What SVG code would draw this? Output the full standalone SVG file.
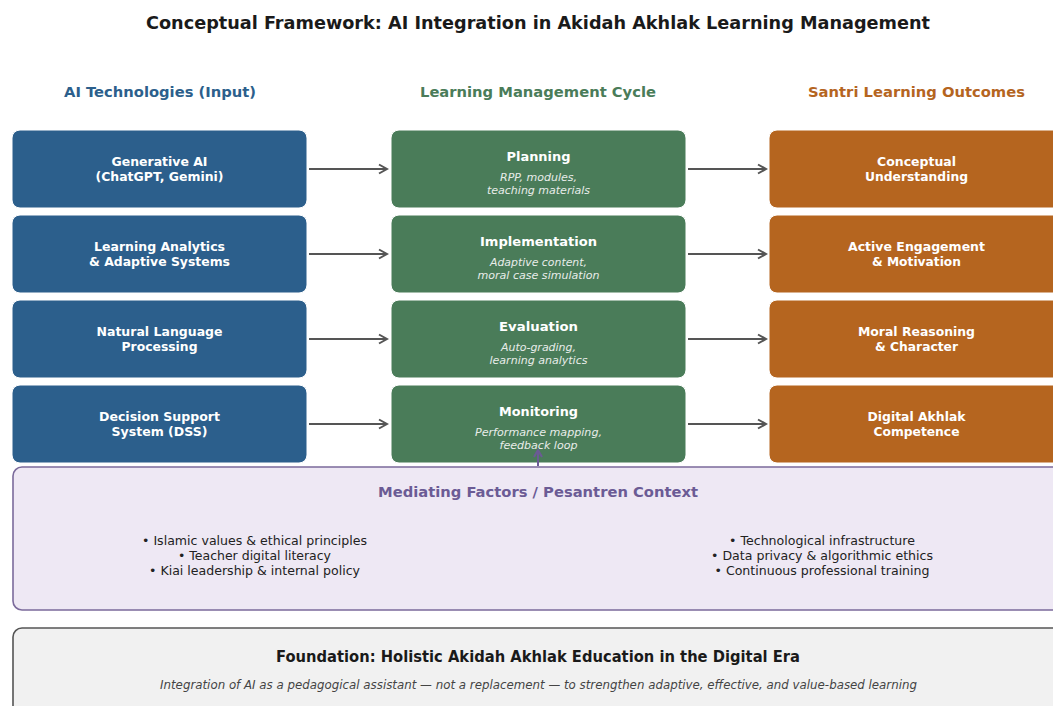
<svg xmlns="http://www.w3.org/2000/svg" width="1053" height="706" viewBox="0 0 1053 706">
<style>
text{font-family:"DejaVu Sans","Liberation Sans",sans-serif;text-anchor:middle}
.title{font-size:17px;font-weight:bold;fill:#1a1a1a}
.hdr{font-size:14px;font-weight:bold}
.lbl{font-size:13px;font-weight:bold;fill:#ffffff}
.sub{font-size:11px;font-style:italic;fill:#e8ece9}
.blue{fill:#2c5f8c}
.green{fill:#4a7c59}
.orange{fill:#b5651f}
.box{stroke:#ffffff;stroke-width:1}
.bul{font-size:13px;fill:#222222}
.conn{stroke:#555555;stroke-width:2;fill:none}
</style>
<defs>
<marker id="ah" markerUnits="userSpaceOnUse" markerWidth="12" markerHeight="12" refX="10" refY="6" orient="auto">
<path d="M2,1.5 L10,6 L2,10.5" fill="none" stroke="#555555" stroke-width="2"/>
</marker>
<marker id="ahp" markerUnits="userSpaceOnUse" markerWidth="12" markerHeight="12" refX="10" refY="6" orient="auto">
<path d="M3,2 L10,6 L3,10" fill="none" stroke="#6b5b95" stroke-width="2"/>
</marker>
</defs>
<rect width="1053" height="706" fill="#ffffff"/>
<text class="title" x="538" y="29" textLength="784" lengthAdjust="spacingAndGlyphs">Conceptual Framework: AI Integration in Akidah Akhlak Learning Management</text>
<text class="hdr" x="160" y="97" fill="#2c5f8c" textLength="192" lengthAdjust="spacingAndGlyphs">AI Technologies (Input)</text>
<text class="hdr" x="538" y="97" fill="#4a7c59" textLength="236" lengthAdjust="spacingAndGlyphs">Learning Management Cycle</text>
<text class="hdr" x="916.5" y="97" fill="#b5651f" textLength="217" lengthAdjust="spacingAndGlyphs">Santri Learning Outcomes</text>

<g id="mediating">
<rect x="13" y="467" width="1051" height="143" rx="9" fill="#eee8f4" stroke="#7b6a9b" stroke-width="1.6"/>
<text x="538" y="497" class="hdr" fill="#6b5b95" textLength="320" lengthAdjust="spacingAndGlyphs">Mediating Factors / Pesantren Context</text>
<text class="bul" x="254.5" y="544.5" textLength="225" lengthAdjust="spacingAndGlyphs">• Islamic values &amp; ethical principles</text>
<text class="bul" x="254.5" y="559.5" textLength="153" lengthAdjust="spacingAndGlyphs">• Teacher digital literacy</text>
<text class="bul" x="254.5" y="574.5" textLength="211" lengthAdjust="spacingAndGlyphs">• Kiai leadership &amp; internal policy</text>
<text class="bul" x="822" y="544.5" textLength="186" lengthAdjust="spacingAndGlyphs">• Technological infrastructure</text>
<text class="bul" x="822" y="559.5" textLength="222" lengthAdjust="spacingAndGlyphs">• Data privacy &amp; algorithmic ethics</text>
<text class="bul" x="822" y="574.5" textLength="215" lengthAdjust="spacingAndGlyphs">• Continuous professional training</text>
</g>

<g id="foundation">
<rect x="13" y="628" width="1051" height="100" rx="9" fill="#f1f1f1" stroke="#555555" stroke-width="1.6"/>
<text x="538" y="662" style="font-size:15px;font-weight:bold;fill:#1a1a1a" textLength="524" lengthAdjust="spacingAndGlyphs">Foundation: Holistic Akidah Akhlak Education in the Digital Era</text>
<text x="538.5" y="689" style="font-size:11.5px;font-style:italic;fill:#444444" textLength="757" lengthAdjust="spacingAndGlyphs">Integration of AI as a pedagogical assistant — not a replacement — to strengthen adaptive, effective, and value-based learning</text>
</g>

<g id="ai-generative">
<rect class="box blue" x="12" y="130" width="295" height="78" rx="8"/>
<text class="lbl" x="159.5" y="165.5" textLength="96" lengthAdjust="spacingAndGlyphs">Generative AI</text>
<text class="lbl" x="159.5" y="180.5" textLength="128" lengthAdjust="spacingAndGlyphs">(ChatGPT, Gemini)</text>
</g>
<g id="ai-analytics">
<rect class="box blue" x="12" y="215" width="295" height="78" rx="8"/>
<text class="lbl" x="159.5" y="250.5" textLength="131" lengthAdjust="spacingAndGlyphs">Learning Analytics</text>
<text class="lbl" x="159.5" y="265.5" textLength="141" lengthAdjust="spacingAndGlyphs">&amp; Adaptive Systems</text>
</g>
<g id="ai-nlp">
<rect class="box blue" x="12" y="300" width="295" height="78" rx="8"/>
<text class="lbl" x="159.5" y="335.5" textLength="126" lengthAdjust="spacingAndGlyphs">Natural Language</text>
<text class="lbl" x="159.5" y="350.5" textLength="76" lengthAdjust="spacingAndGlyphs">Processing</text>
</g>
<g id="ai-dss">
<rect class="box blue" x="12" y="385" width="295" height="78" rx="8"/>
<text class="lbl" x="159.5" y="420.5" textLength="121" lengthAdjust="spacingAndGlyphs">Decision Support</text>
<text class="lbl" x="159.5" y="435.5" textLength="96" lengthAdjust="spacingAndGlyphs">System (DSS)</text>
</g>

<g id="lm-planning">
<rect class="box green" x="391" y="130" width="295" height="78" rx="8"/>
<text class="lbl" x="538.5" y="160.5" textLength="64" lengthAdjust="spacingAndGlyphs">Planning</text>
<text class="sub" x="538.5" y="181" textLength="77" lengthAdjust="spacingAndGlyphs">RPP, modules,</text>
<text class="sub" x="538.5" y="193.5" textLength="103" lengthAdjust="spacingAndGlyphs">teaching materials</text>
</g>
<g id="lm-implementation">
<rect class="box green" x="391" y="215" width="295" height="78" rx="8"/>
<text class="lbl" x="538.5" y="245.5" textLength="117" lengthAdjust="spacingAndGlyphs">Implementation</text>
<text class="sub" x="538.5" y="266" textLength="97" lengthAdjust="spacingAndGlyphs">Adaptive content,</text>
<text class="sub" x="538.5" y="278.5" textLength="122" lengthAdjust="spacingAndGlyphs">moral case simulation</text>
</g>
<g id="lm-evaluation">
<rect class="box green" x="391" y="300" width="295" height="78" rx="8"/>
<text class="lbl" x="538.5" y="330.5" textLength="79" lengthAdjust="spacingAndGlyphs">Evaluation</text>
<text class="sub" x="538.5" y="351" textLength="75" lengthAdjust="spacingAndGlyphs">Auto-grading,</text>
<text class="sub" x="538.5" y="363.5" textLength="98" lengthAdjust="spacingAndGlyphs">learning analytics</text>
</g>
<g id="lm-monitoring">
<rect class="box green" x="391" y="385" width="295" height="78" rx="8"/>
<text class="lbl" x="538.5" y="415.5" textLength="79" lengthAdjust="spacingAndGlyphs">Monitoring</text>
<text class="sub" x="538.5" y="436" textLength="127" lengthAdjust="spacingAndGlyphs">Performance mapping,</text>
<text class="sub" x="538.5" y="448.5" textLength="78" lengthAdjust="spacingAndGlyphs">feedback loop</text>
</g>

<g id="out-conceptual">
<rect class="box orange" x="769" y="130" width="295" height="78" rx="8"/>
<text class="lbl" x="916.5" y="165.5" textLength="79" lengthAdjust="spacingAndGlyphs">Conceptual</text>
<text class="lbl" x="916.5" y="180.5" textLength="103" lengthAdjust="spacingAndGlyphs">Understanding</text>
</g>
<g id="out-engagement">
<rect class="box orange" x="769" y="215" width="295" height="78" rx="8"/>
<text class="lbl" x="916.5" y="250.5" textLength="137" lengthAdjust="spacingAndGlyphs">Active Engagement</text>
<text class="lbl" x="916.5" y="265.5" textLength="89" lengthAdjust="spacingAndGlyphs">&amp; Motivation</text>
</g>
<g id="out-moral">
<rect class="box orange" x="769" y="300" width="295" height="78" rx="8"/>
<text class="lbl" x="916.5" y="335.5" textLength="117" lengthAdjust="spacingAndGlyphs">Moral Reasoning</text>
<text class="lbl" x="916.5" y="350.5" textLength="83" lengthAdjust="spacingAndGlyphs">&amp; Character</text>
</g>
<g id="out-digital">
<rect class="box orange" x="769" y="385" width="295" height="78" rx="8"/>
<text class="lbl" x="916.5" y="420.5" textLength="98" lengthAdjust="spacingAndGlyphs">Digital Akhlak</text>
<text class="lbl" x="916.5" y="435.5" textLength="86" lengthAdjust="spacingAndGlyphs">Competence</text>
</g>

<g id="connectors">
<line class="conn" x1="309" y1="169" x2="387" y2="169" marker-end="url(#ah)"/>
<line class="conn" x1="309" y1="254" x2="387" y2="254" marker-end="url(#ah)"/>
<line class="conn" x1="309" y1="339" x2="387" y2="339" marker-end="url(#ah)"/>
<line class="conn" x1="309" y1="424" x2="387" y2="424" marker-end="url(#ah)"/>
<line class="conn" x1="688" y1="169" x2="766" y2="169" marker-end="url(#ah)"/>
<line class="conn" x1="688" y1="254" x2="766" y2="254" marker-end="url(#ah)"/>
<line class="conn" x1="688" y1="339" x2="766" y2="339" marker-end="url(#ah)"/>
<line class="conn" x1="688" y1="424" x2="766" y2="424" marker-end="url(#ah)"/>
<line x1="538" y1="466" x2="538" y2="450" stroke="#6b5b95" stroke-width="2" marker-end="url(#ahp)"/>
</g>
</svg>
